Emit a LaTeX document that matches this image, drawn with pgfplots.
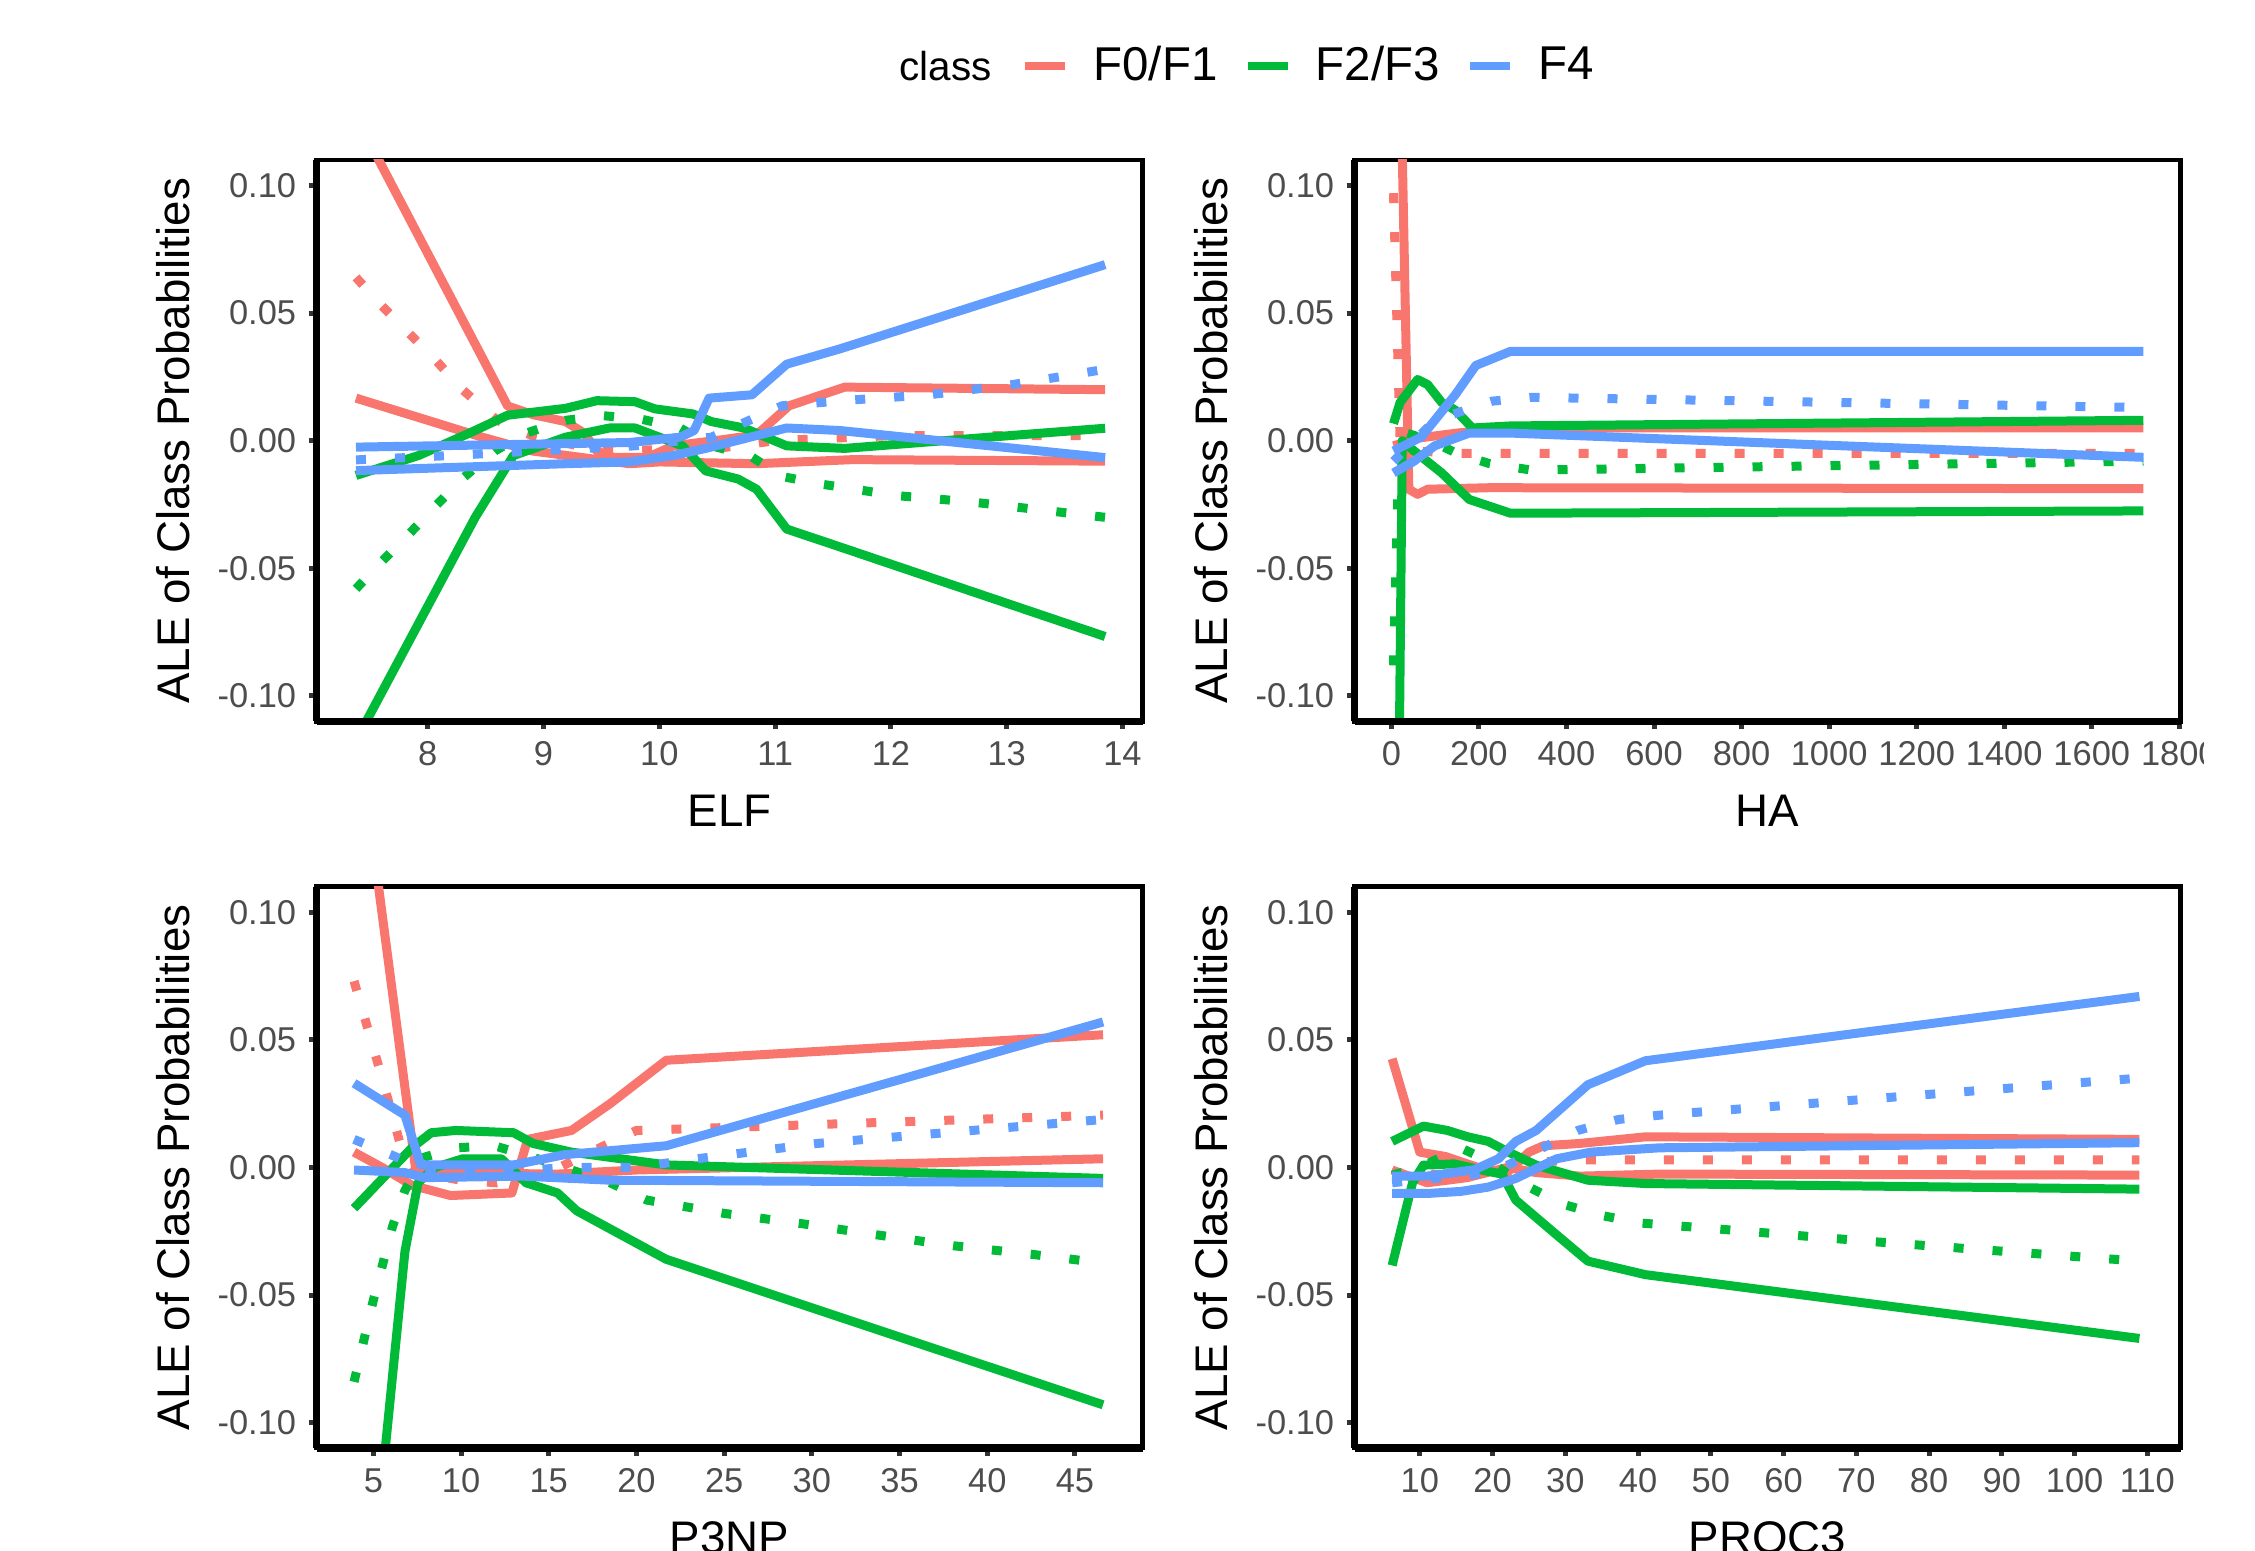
\documentclass[border=0pt]{standalone}
\usepackage{fontspec}
\setmainfont{Liberation Sans}
\usepackage{pgfplots}
\pgfplotsset{compat=1.18}
\definecolor{cR}{HTML}{F8766D}
\definecolor{cG}{HTML}{00BA38}
\definecolor{cB}{HTML}{619CFF}
\definecolor{tickgray}{HTML}{4D4D4D}
\definecolor{tickmark}{HTML}{333333}
\tikzset{
  sol/.style={line width=0.9mm, line join=round, line cap=butt},
  dot/.style={line width=0.9mm, line cap=butt, dash pattern=on 1mm off 2.9mm},
}
\pgfplotsset{
  panel/.style={
    scale only axis, width=82.6mm, height=56.15mm, anchor=south west,
    ymin=-0.11, ymax=0.11,
    ytick={-0.1,-0.05,0,0.05,0.1},
    yticklabels={-0.10,-0.05,0.00,0.05,0.10},
    xtick pos=bottom, ytick pos=left,
    tick align=outside, major tick length=0.8mm,
    every tick/.style={color=tickmark, line width=0.5mm},
    axis line style={line width=0.45mm, black},
    tick label style={font=\fontsize{9.8}{11}\selectfont, text=tickgray},
    /pgf/number format/assume math mode=true,
    /pgf/number format/1000 sep={},
    label style={font=\fontsize{13}{15}\selectfont},
    ylabel={ALE of Class Probabilities},
    ylabel style={at={(axis description cs:-0.1737,0.5)}, anchor=center, rotate=0},
    xlabel style={at={(axis description cs:0.5,-0.159)}, anchor=center},
    clip=true,
    after end axis/.code={
      \draw[line width=0.75mm, black] (rel axis cs:0,0) -- (rel axis cs:1,0);
      \draw[line width=0.75mm, black] (rel axis cs:0,0) -- (rel axis cs:0,1);
    },
  },
}
\begin{document}
\begin{tikzpicture}
\path[use as bounding box] (0,0) rectangle (225.5mm,155mm);
\begin{scope}
\clip (0,0) rectangle (220.3mm,155mm);
\node[font=\fontsize{11.5}{13}\selectfont, anchor=center] at (94.55mm,148.4mm) {class};
% ---------------- ELF
\begin{axis}[panel, at={(31.65mm,82.85mm)},
  xmin=7.039, xmax=14.173, xtick={8,9,10,11,12,13,14}, xlabel={ELF},
  legend columns=-1,
  legend style={at={(axis description cs:0.8529,1.1674)}, anchor=west, draw=none, fill=none,
    inner sep=0pt, outer sep=0pt, font=\fontsize{13.5}{16}\selectfont,
    /tikz/every odd column/.append style={column sep=2.4mm},
    /tikz/every even column/.append style={column sep=2.6mm},
    nodes={inner sep=0pt}},
  legend image code/.code={\draw[#1, line width=0.85mm] (0mm,0mm) -- (4mm,0mm);},
]
\addlegendimage{cR}\addlegendentry{F0/F1}
\addlegendimage{cG}\addlegendentry{F2/F3}
\addlegendimage{cB}\addlegendentry{F4}
\addplot[cR, sol, forget plot] coordinates {(7.38,0.127)(8.69,0.0136)(8.91,0.0102)(9.19,0.0075)(9.35,0.003)(9.46,-0.004)(9.6,-0.0065)(9.9,-0.0065)(10.12,-0.002)(10.56,0.0005)(10.84,0.0023)(11.12,0.0137)(11.6,0.021)(13.85,0.020)};
\addplot[cR, sol, forget plot] coordinates {(7.38,0.0167)(8.47,0.0014)(8.9,-0.004)(9.74,-0.009)(10.0,-0.0083)(10.84,-0.009)(11.67,-0.0074)(13.85,-0.008)};
\addplot[cR, dot, forget plot] coordinates {(7.38,0.064)(7.6,0.053)(8.08,0.031)(8.3,0.020)(8.6,0.008)(8.9,0.002)(9.5,-0.004)(10.5,-0.003)(11.0,0.0)(12,0.002)(13.85,0.002)};
\addplot[cG, sol, forget plot] coordinates {(7.38,-0.1175)(8.41,-0.030)(8.74,-0.0058)(9.19,0.0014)(9.57,0.005)(9.79,0.005)(10.2,-0.002)(10.4,-0.0118)(10.68,-0.015)(10.84,-0.019)(11.1,-0.0346)(11.56,-0.0416)(13.85,-0.0767)};
\addplot[cG, sol, forget plot] coordinates {(7.38,-0.0136)(7.92,-0.0058)(8.36,0.003)(8.69,0.010)(9.19,0.0127)(9.46,0.0157)(9.79,0.0153)(9.96,0.0125)(10.29,0.0105)(10.45,0.0075)(10.73,0.005)(11.1,-0.002)(11.6,-0.003)(13.85,0.0049)};
\addplot[cG, dot, forget plot] coordinates {(7.38,-0.058)(7.61,-0.047)(7.85,-0.036)(8.08,-0.025)(8.31,-0.0144)(8.58,-0.004)(8.85,0.003)(9.19,0.008)(9.52,0.0098)(9.85,0.0084)(10.18,0.005)(10.45,-0.002)(10.78,-0.0058)(11.06,-0.014)(11.4,-0.017)(12.05,-0.0215)(12.7,-0.024)(13.85,-0.030)};
\addplot[cB, sol, forget plot] coordinates {(7.38,-0.0025)(9.74,-0.0007)(10.18,0.0014)(10.3,0.004)(10.43,0.0167)(10.8,0.018)(11.1,0.030)(11.56,0.036)(13.85,0.069)};
\addplot[cB, sol, forget plot] coordinates {(7.38,-0.0117)(9.19,-0.009)(9.74,-0.0083)(10.12,-0.0058)(10.4,-0.003)(11.1,0.005)(11.56,0.004)(13.85,-0.0066)};
\addplot[cB, dot, forget plot] coordinates {(7.38,-0.0075)(8.1,-0.006)(9.79,-0.002)(10.45,0.0014)(11.06,0.0137)(11.67,0.016)(12.33,0.018)(13.05,0.022)(13.85,0.028)};
\end{axis}
% ---------------- HA
\begin{axis}[panel, at={(135.45mm,82.85mm)},
  xmin=-84.1, xmax=1802.7, xtick={0,200,...,1800}, xlabel={HA}]
\addplot[cR, sol] coordinates {(15,0.20)(40,-0.019)(60,-0.021)(83,-0.019)(225,-0.0184)(1718,-0.0188)};
\addplot[cR, sol] coordinates {(5,-0.002)(60,0.001)(150,0.003)(270,0.005)(1718,0.005)};
\addplot[cR, dot] coordinates {(5,0.097)(20,0.0)(60,-0.004)(150,-0.005)(1718,-0.005)};
\addplot[cG, sol] coordinates {(8,-0.30)(25,0.0)(52,-0.004)(115,-0.0126)(178,-0.023)(272,-0.0284)(1718,-0.0275)};
\addplot[cG, sol] coordinates {(5,0.0067)(20,0.015)(60,0.024)(83,0.022)(115,0.015)(146,0.012)(185,0.005)(272,0.0058)(1718,0.008)};
\addplot[cG, dot] coordinates {(5,-0.088)(15,-0.02)(35,0.003)(90,0.0)(150,-0.005)(225,-0.009)(320,-0.0115)(1718,-0.008)};
\addplot[cB, sol] coordinates {(5,-0.004)(68,0.0014)(146,0.018)(193,0.0295)(272,0.035)(1718,0.035)};
\addplot[cB, sol] coordinates {(5,-0.0126)(52,-0.008)(99,-0.002)(178,0.003)(272,0.003)(1718,-0.0065)};
\addplot[cB, dot] coordinates {(5,-0.008)(100,0.008)(230,0.0155)(320,0.017)(1718,0.013)};
\end{axis}
% ---------------- P3NP
\begin{axis}[panel, at={(31.65mm,10.18mm)},
  xmin=1.76, xmax=48.85, xtick={5,10,...,45}, xlabel={P3NP}]
\addplot[cR, sol] coordinates {(3.9,0.183)(7.4,0.0)(8,-0.002)(15.5,-0.0026)(20,-0.001)(46.6,0.0034)};
\addplot[cR, sol] coordinates {(3.9,0.006)(5.5,0.0)(7.2,-0.007)(9.4,-0.011)(12.9,-0.010)(13.8,0.011)(16.3,0.0145)(18.5,0.025)(21.7,0.042)(46.6,0.052)};
\addplot[cR, dot] coordinates {(3.9,0.073)(5.5,0.035)(6.5,0.01)(7.5,-0.002)(10,-0.005)(12,-0.006)(15,-0.002)(18,0.008)(20,0.0145)(46.6,0.0205)};
\addplot[cG, sol] coordinates {(3.9,-0.233)(6.8,-0.033)(7.55,-0.006)(8.5,0.0)(10.1,0.0034)(12.3,0.0034)(13.7,-0.006)(15.5,-0.010)(16.6,-0.017)(21.7,-0.036)(46.6,-0.093)};
\addplot[cG, sol] coordinates {(3.9,-0.016)(7.2,0.0077)(8.3,0.0136)(9.7,0.0145)(13.0,0.0136)(14.1,0.0094)(16.3,0.006)(21.7,0.001)(46.6,-0.0043)};
\addplot[cG, dot] coordinates {(3.9,-0.084)(5.0,-0.052)(6.1,-0.023)(6.8,-0.009)(7.9,0.004)(9.7,0.0077)(11.9,0.0085)(14.1,0.004)(18.5,-0.006)(20.6,-0.0128)(25,-0.018)(29.4,-0.022)(33.7,-0.0264)(38.1,-0.0307)(42.5,-0.034)(46.6,-0.0375)};
\addplot[cB, sol] coordinates {(3.9,0.033)(6.8,0.0205)(7.7,0.001)(13,0.001)(15.9,0.005)(21.7,0.0085)(46.6,0.057)};
\addplot[cB, sol] coordinates {(3.9,-0.001)(6.8,-0.002)(7.9,-0.004)(13.5,-0.0034)(18.5,-0.005)(46.6,-0.006)};
\addplot[cB, dot] coordinates {(3.9,0.011)(6,0.005)(8,-0.001)(12,-0.002)(16,0.0)(20,0.0)(23,0.003)(30.3,0.0094)(43.5,0.017)(46.6,0.0188)};
\end{axis}
% ---------------- PROC3
\begin{axis}[panel, at={(135.45mm,10.18mm)},
  xmin=1.03, xmax=114.55, xtick={10,20,...,110}, xlabel={PROC3}]
\addplot[cR, sol] coordinates {(6.2,0.0426)(10,0.006)(13.5,0.0043)(18,0.0)(22,-0.002)(25,0.006)(27,0.0085)(32,0.0094)(41,0.012)(108.9,0.011)};
\addplot[cR, sol] coordinates {(6.2,-0.001)(11,-0.006)(16.5,-0.004)(22,0.0)(26,-0.002)(32,-0.0034)(43,-0.0026)(108.9,-0.003)};
\addplot[cR, dot] coordinates {(6.2,-0.002)(15,-0.003)(25,0.002)(32,0.003)(108.9,0.003)};
\addplot[cG, sol] coordinates {(6.2,-0.0384)(9,-0.006)(10.5,0.0009)(14.7,0.0014)(18.5,-0.001)(21.3,-0.0026)(23.2,-0.0128)(28.8,-0.0264)(33.1,-0.0367)(41,-0.042)(108.9,-0.067)};
\addplot[cG, sol] coordinates {(6.2,0.0102)(10.5,0.0162)(13.8,0.0145)(16.6,0.012)(19.4,0.0102)(22.2,0.006)(26,0.0009)(33.1,-0.005)(41,-0.0063)(108.9,-0.0085)};
\addplot[cG, dot] coordinates {(6.2,-0.003)(10,0.0)(15.6,0.0077)(19.4,0.0026)(25,-0.0077)(29.8,-0.0145)(35,-0.0188)(40,-0.0217)(50.5,-0.024)(72,-0.029)(88,-0.0324)(108.9,-0.0367)};
\addplot[cB, sol] coordinates {(6.2,-0.0034)(11,-0.0034)(17.5,-0.0009)(20.8,0.0034)(23.2,0.0102)(26,0.0145)(33.1,0.0324)(41,0.0418)(108.9,0.067)};
\addplot[cB, sol] coordinates {(6.2,-0.0102)(11,-0.0102)(15.6,-0.0094)(19.4,-0.0077)(23.2,-0.0043)(28.8,0.0034)(33.5,0.006)(43,0.0077)(108.9,0.0097)};
\addplot[cB, dot] coordinates {(6.2,-0.006)(20,-0.002)(25,0.005)(31.7,0.0145)(37.3,0.0188)(43,0.0205)(108.9,0.035)};
\end{axis}
\end{scope}
\end{tikzpicture}
\end{document}
